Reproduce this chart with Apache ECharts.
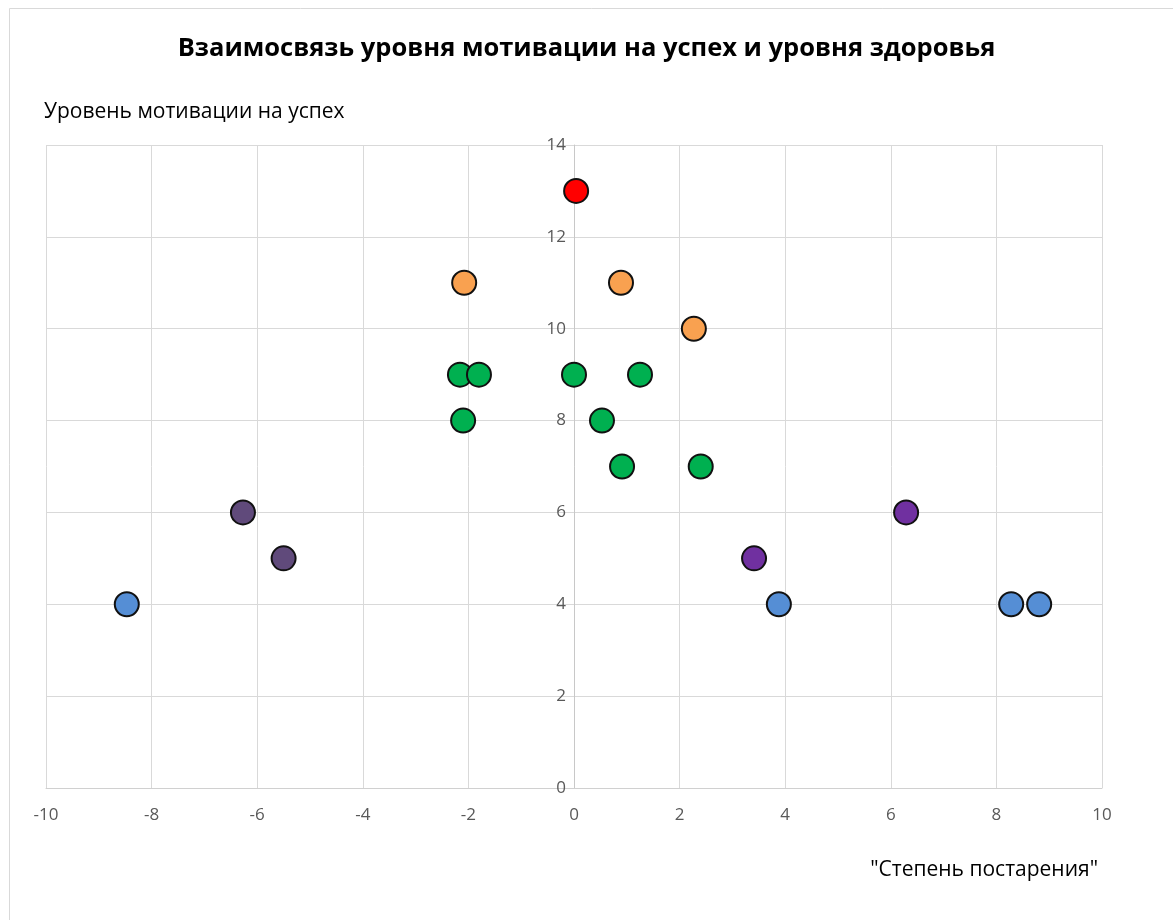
<!DOCTYPE html>
<html><head><meta charset="utf-8">
<script src="https://cdn.jsdelivr.net/npm/echarts@6/dist/echarts.min.js"></script>
<style>html,body{margin:0;padding:0;background:#fff}#c{width:1173px;height:920px}</style>
</head><body><div id="c"></div>
<script>
const titleText = 'Взаимосвязь уровня мотивации на успех и уровня здоровья';
const yName = 'Уровень мотивации на успех';
const xName = '"Степень постарения"';
const blueX = [-8.47, 3.88, 8.28, 8.81];
const blueY = [4, 4, 4, 4];
const darkPurpleX = [-6.27, -5.5];
const darkPurpleY = [6, 5];
const orangeX = [-2.08, 0.89, 2.27];
const orangeY = [11, 11, 10];
const redX = [0.04];
const redY = [13];
const greenX = [-2.16, -1.8, -2.1, 0.0, 1.25, 0.53, 0.91, 2.4];
const greenY = [9, 9, 8, 9, 9, 8, 7, 7];
const purpleX = [3.41, 6.29];
const purpleY = [5, 6];

const zip = (xs, ys) => xs.map((x, i) => [x, ys[i]]);
const groups = [
  [blueX, blueY, '#558ED5'],
  [darkPurpleX, darkPurpleY, '#604A7B'],
  [orangeX, orangeY, '#F9A150'],
  [redX, redY, '#FF0000'],
  [greenX, greenY, '#00B050'],
  [purpleX, purpleY, '#7030A0']
];
const font = '"Open Sans", "Noto Sans", sans-serif';
const chart = echarts.init(document.getElementById('c'));
chart.setOption({
  animation: false,
  backgroundColor: '#fff',
  title: { text: titleText, left: 'center', top: 31,
    textStyle: { fontFamily: font, fontSize: 25.5, fontWeight: 'bold', color: '#000' } },
  graphic: [{ type: 'rect', shape: { x: 9.5, y: 8.5, width: 1200, height: 1000 },
    style: { fill: 'none', stroke: '#d9d9d9', lineWidth: 1 }, silent: true },
    { type: 'text', left: 44, top: 102, style: { text: yName, font: '21px ' + font, fill: '#000' } },
    { type: 'text', right: 75, top: 860, style: { text: xName, font: '21px ' + font, fill: '#000' } }
  ],
  grid: { left: 46, right: 71, top: 145, bottom: 132 },
  xAxis: { type: 'value', min: -10, max: 10, interval: 2,
    axisLine: { show: true, onZero: false, lineStyle: { color: '#d0d0d0' } },
    axisTick: { show: false },
    axisLabel: { color: '#595959', fontSize: 17, fontFamily: font, margin: 19 },
    splitLine: { show: true, lineStyle: { color: '#d9d9d9' } } },
  yAxis: { type: 'value', min: 0, max: 14, interval: 2, position: 'left', offset: -528,
    axisLine: { show: true, onZero: false, lineStyle: { color: '#c8c8c8' } },
    axisTick: { show: false },
    axisLabel: { color: '#595959', fontSize: 17, fontFamily: font, margin: 8 },
    splitLine: { show: true, lineStyle: { color: '#d9d9d9' } } },
  series: groups.map(g => ({
    type: 'scatter', data: zip(g[0], g[1]), symbolSize: 24,
    itemStyle: { color: g[2], borderColor: '#111', borderWidth: 2, opacity: 1 }
  }))
});
</script></body></html>
